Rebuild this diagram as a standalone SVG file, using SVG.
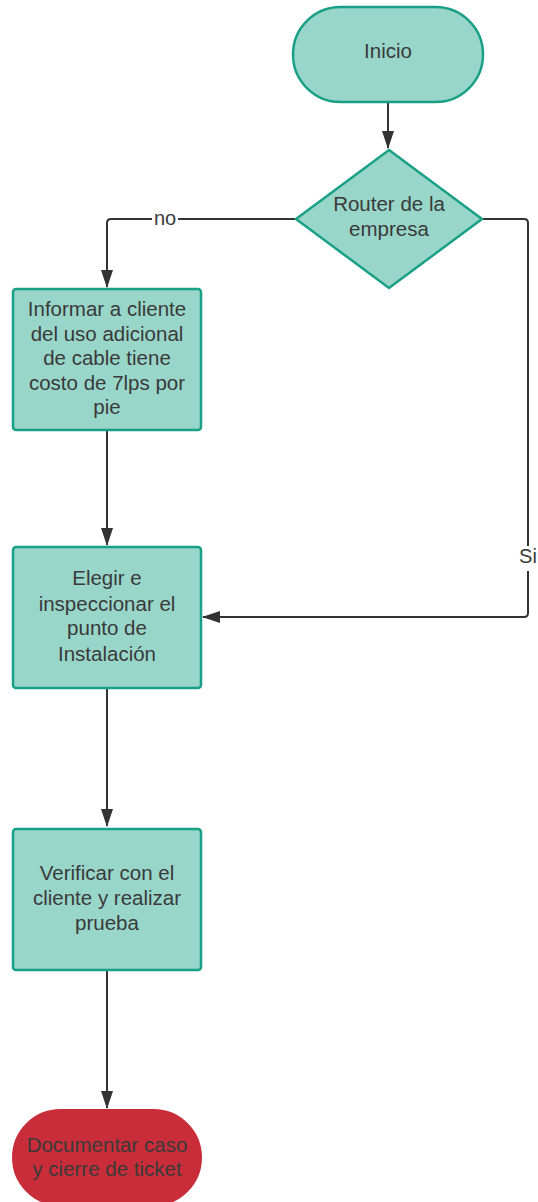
<svg xmlns="http://www.w3.org/2000/svg" width="538" height="1202" viewBox="0 0 538 1202">
<defs>
<style>
.proc{fill:#99d6ca;stroke:#1aa086;stroke-width:2.5}
.term-red{fill:#c92d39;stroke:#c92d39;stroke-width:2}
.t{font-family:"Liberation Sans",Arial,sans-serif;font-size:20.5px;fill:#3a3a3a;text-anchor:middle}
.lbl{font-family:"Liberation Sans",Arial,sans-serif;font-size:20px;fill:#3a3a3a;text-anchor:middle}
.c{fill:none;stroke:#333333;stroke-width:2;stroke-linejoin:round}
</style>
<marker id="arr" viewBox="0 0 18 14" refX="17" refY="7" markerWidth="18" markerHeight="14" markerUnits="userSpaceOnUse" orient="auto">
<path d="M0,1 L18,7 L0,13 Z" fill="#333333"/>
</marker>
</defs>
<rect width="538" height="1202" fill="#ffffff"/>
<g id="connectors">
<path class="c" d="M388,102 V148" marker-end="url(#arr)"/>
<path class="c" d="M296,219 H111 Q107,219 107,223 V287" marker-end="url(#arr)"/>
<path class="c" d="M482,219 H524 Q528,219 528,223 V613 Q528,617 524,617 H203" marker-end="url(#arr)"/>
<path class="c" d="M107,430 V545" marker-end="url(#arr)"/>
<path class="c" d="M107,688 V826" marker-end="url(#arr)"/>
<path class="c" d="M107,970 V1108" marker-end="url(#arr)"/>
<rect x="152" y="209" width="26" height="20" fill="#ffffff"/>
<text class="lbl" x="165" y="225">no</text>
<rect x="518" y="546" width="22" height="25" fill="#ffffff"/>
<text class="lbl" x="528" y="563">Si</text>
</g>
<g id="inicio">
<rect class="proc" x="293" y="7" width="190" height="95" rx="47.5"/>
<text class="t" x="388" y="58">Inicio</text>
</g>
<g id="router">
<polygon class="proc" points="389,150 482,219 389,288 296,219"/>
<text class="t" x="389" y="211">Router de la</text>
<text class="t" x="389" y="236">empresa</text>
</g>
<g id="informar">
<rect class="proc" x="13" y="289" width="188" height="141" rx="3"/>
<text class="t" x="107" y="316">Informar a cliente</text>
<text class="t" x="107" y="341">del uso adicional</text>
<text class="t" x="107" y="365">de cable tiene</text>
<text class="t" x="107" y="390">costo de 7lps por</text>
<text class="t" x="107" y="414">pie</text>
</g>
<g id="elegir">
<rect class="proc" x="13" y="547" width="188" height="141" rx="3"/>
<text class="t" x="107" y="585">Elegir e</text>
<text class="t" x="107" y="611">inspeccionar el</text>
<text class="t" x="107" y="635">punto de</text>
<text class="t" x="107" y="661">Instalación</text>
</g>
<g id="verificar">
<rect class="proc" x="13" y="829" width="188" height="141" rx="3"/>
<text class="t" x="107" y="880">Verificar con el</text>
<text class="t" x="107" y="905">cliente y realizar</text>
<text class="t" x="107" y="930">prueba</text>
</g>
<g id="documentar">
<rect class="term-red" x="13" y="1110" width="188" height="95" rx="47.5"/>
<text class="t" x="107" y="1152">Documentar caso</text>
<text class="t" x="107" y="1176">y cierre  de ticket</text>
</g>
</svg>
